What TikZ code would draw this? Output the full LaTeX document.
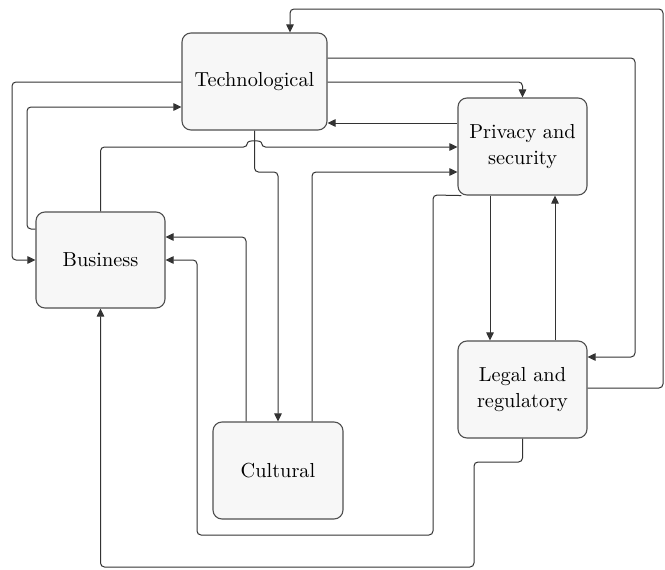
\documentclass[tikz,border=0pt]{standalone}
\usepackage{fontspec}
\setmainfont{lmroman10-regular.otf}
\usetikzlibrary{arrows.meta}
\definecolor{boxfill}{HTML}{F7F7F7}
\definecolor{boxline}{HTML}{505050}
\definecolor{wire}{HTML}{333333}
\begin{document}
\begin{tikzpicture}[x=1pt,y=-1pt,
  blk/.style={draw=boxline,fill=boxfill,line width=1.1pt,rounded corners=9pt,
    align=center,inner sep=2pt,font=\rmfamily\fontsize{20.3}{26}\selectfont},
  wire/.style={draw=wire,line width=1pt,rounded corners=4pt},
  arr/.style={wire,-{Triangle[length=8pt,width=7.5pt]}}]
\useasboundingbox (0,0) rectangle (665,570);
\node[blk,minimum width=145pt,minimum height=97pt] (T) at (254.5,81.5) {Technological};
\node[blk,minimum width=129pt,minimum height=96pt] (B) at (100.5,260) {Business};
\node[blk,minimum width=129pt,minimum height=97pt] (P) at (522.5,146.5) {Privacy and\\security};
\node[blk,minimum width=129pt,minimum height=97pt] (L) at (522.5,389.5) {Legal and\\regulatory};
\node[blk,minimum width=130pt,minimum height=97pt] (C) at (278,470.5) {Cultural};
% Legal -> Technological
\draw[arr] ([yshift=1.5pt]L.east) -- (663,388) -- (663,9) -- (290,9) -- ([xshift=35.5pt]T.north);
% Technological -> Legal
\draw[arr] ([yshift=23.5pt]T.east) -- (635,58) -- (635,357) -- ([yshift=32.5pt]L.east);
% Technological -> Privacy
\draw[arr] ([yshift=-0.5pt]T.east) -| (P.north);
% Privacy -> Technological
\draw[arr] ([yshift=23.5pt]P.west) -- ([yshift=-41.5pt]T.east);
% Business -> Privacy (with hop)
\draw[arr] (B.north) -- (100.5,147) -- (247.5,147) .. controls (247.5,140) and (261.5,140) .. (261.5,147) -- ([yshift=-0.5pt]P.west);
% Cultural -> Privacy
\draw[arr] ([xshift=34pt]C.north) -- (312,172) -- ([yshift=-25.5pt]P.west);
% Technological -> Cultural
\draw[arr] (T.south) -- (254.5,172) -- (278,172) -- (C.north);
% Cultural -> Business
\draw[arr] ([xshift=-32pt]C.north) -- (246,237) -- ([yshift=23pt]B.east);
% Privacy -> Business
\draw[arr] ([xshift=4pt]P.south west) -- (433,195) -- (433,535) -- (197,535) -- (197,260) -- (B.east);
% Privacy -> Legal
\draw[arr] ([xshift=-32.5pt]P.south) -- ([xshift=-32.5pt]L.north);
% Legal -> Privacy
\draw[arr] ([xshift=32.5pt]L.north) -- ([xshift=32.5pt]P.south);
% Legal -> Business
\draw[arr] (L.south) -- (522.5,462) -- (474,462) -- (474,567) -- (100.5,567) -- (B.south);
% Technological -> Business
\draw[arr] ([yshift=-0.5pt]T.west) -- (12,82) -- (12,260) -- (B.west);
% Business -> Technological
\draw[arr] ([yshift=31pt]B.west) -- (27,229) -- (27,107) -- ([yshift=-25.5pt]T.west);
\end{tikzpicture}
\end{document}
